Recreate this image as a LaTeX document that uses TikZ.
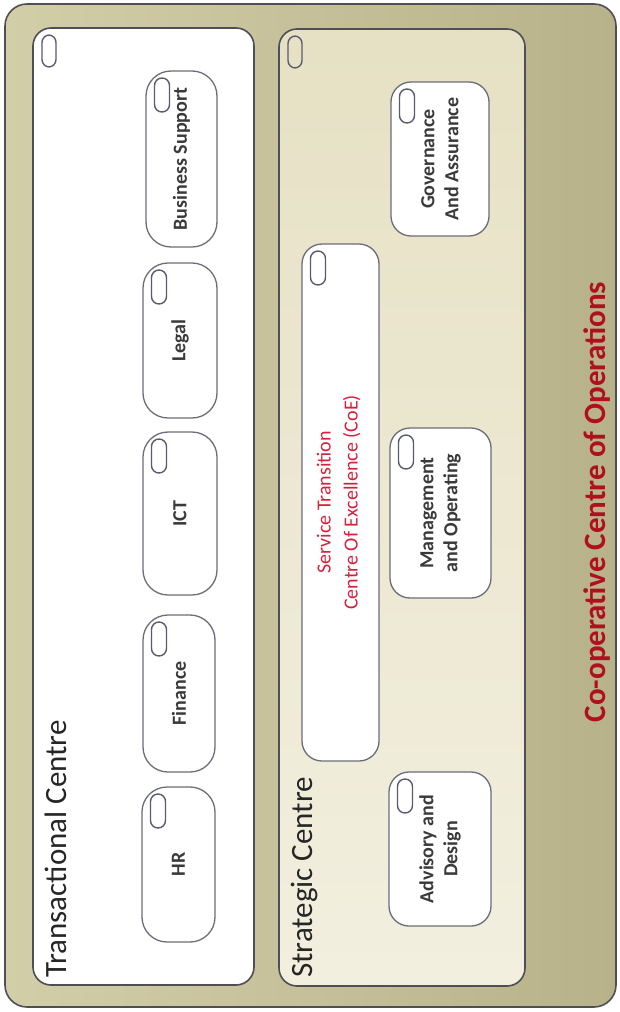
\documentclass[tikz,border=0pt]{standalone}
\usepackage{fontspec}
\setmainfont{Carlito}
\usetikzlibrary{calc}

\definecolor{olivelight}{HTML}{D2CEA8}
\definecolor{olivedark}{HTML}{B8B28A}
\definecolor{framegray}{HTML}{4E4E56}
\definecolor{beigetop}{HTML}{E6E1C4}
\definecolor{beigebottom}{HTML}{F2EFDF}
\definecolor{tileline}{HTML}{6C6C7A}
\definecolor{pillline}{HTML}{5A5B70}
\definecolor{labeltext}{HTML}{3A3A3A}
\definecolor{titletext}{HTML}{262626}
\definecolor{deepred}{HTML}{B0101E}
\definecolor{coered}{HTML}{D6203C}

\begin{document}
\begin{tikzpicture}[x=1pt, y=-1pt,
  outerframe/.style={draw=framegray, line width=1.6pt, rounded corners=22pt,
    left color=olivelight, right color=olivedark, inner sep=0pt, outer sep=0pt},
  container/.style={draw=framegray, line width=1.6pt, rounded corners=18pt,
    inner sep=0pt, outer sep=0pt},
  tile/.style={draw=tileline, fill=white, line width=1.3pt, rounded corners=25pt,
    inner sep=0pt, outer sep=0pt},
  widetile/.style={tile, rounded corners=20pt},
  pill/.style={draw=pillline, line width=1.4pt, rounded corners=7.5pt,
    minimum width=15pt, minimum height=34pt, inner sep=0pt, outer sep=0pt},
  lbl/.style={rotate=90, font=\bfseries\fontsize{20}{24}\selectfont,
    text=labeltext, align=center, inner sep=0pt},
  coelbl/.style={rotate=90, font=\fontsize{20}{27}\selectfont,
    text=coered, align=center, inner sep=0pt},
  title/.style={rotate=90, font=\fontsize{31}{37}\selectfont,
    text=titletext, inner sep=0pt, anchor=base west},
  maintitle/.style={rotate=90, font=\bfseries\fontsize{31}{37}\selectfont,
    text=deepred, inner sep=0pt, anchor=base}
]
\useasboundingbox (0,0) rectangle (620,1012);

% outer frame
\node[outerframe, minimum width=611pt, minimum height=1003pt] (coop) at (310.5,505.5) {};

% the two centres
\node[container, fill=white, minimum width=221pt, minimum height=957pt] (trans) at (143.5,506.5) {};
\node[container, top color=beigetop, bottom color=beigebottom,
      minimum width=246pt, minimum height=957pt] (strat) at (402,507.5) {};

% transactional tiles
\node[tile, minimum width=71pt, minimum height=176pt] (busi) at (181.5,159) {};
\node[tile, minimum width=74pt, minimum height=155pt] (legal) at (180,340.5) {};
\node[tile, minimum width=74pt, minimum height=163pt] (ict) at (180,513.5) {};
\node[tile, minimum width=72pt, minimum height=157pt] (fin) at (179,693.5) {};
\node[tile, minimum width=73pt, minimum height=155pt] (hr) at (178.5,864.5) {};

% strategic tiles
\node[widetile, minimum width=98pt, minimum height=154pt] (gov) at (440,159) {};
\node[widetile, minimum width=77pt, minimum height=517pt] (svc) at (340.5,502.5) {};
\node[widetile, minimum width=101pt, minimum height=170pt] (mgmt) at (440.5,513) {};
\node[widetile, minimum width=102pt, minimum height=154pt] (adv) at (440,849) {};

% small ovals in the top-left corners
\node[pill, minimum width=14pt, minimum height=32pt] (transpill) at ($(trans.north west)+(16,23)$) {};
\node[pill, minimum width=14pt, minimum height=32pt] (stratpill) at ($(strat.north west)+(16,23)$) {};
\foreach \t in {busi,legal,ict,fin,hr,gov,svc,mgmt,adv}{
  \node[pill] (\t pill) at ($(\t.north west)+(16,24)$) {};
}

% labels
\node[lbl] (busilbl) at (busi.center) {Business Support};
\node[lbl] (legallbl) at (legal.center) {Legal};
\node[lbl] (ictlbl) at (ict.center) {ICT};
\node[lbl] (finlbl) at (fin.center) {Finance};
\node[lbl] (hrlbl) at (hr.center) {HR};
\node[lbl] (govlbl) at (gov.center) {Governance\\And Assurance};
\node[coelbl] (svclbl) at ($(svc.center)+(-2,0)$) {Service Transition\\Centre Of Excellence (CoE)};
\node[lbl] (mgmtlbl) at (mgmt.center) {Management\\and Operating};
\node[lbl] (advlbl) at (adv.center) {Advisory and\\Design};

% titles
\node[title] (transtitle) at (66,978) {Transactional Centre};
\node[title] (strattitle) at (312,978) {Strategic Centre};
\node[maintitle] (cooptitle) at (605,502) {Co-operative Centre of Operations};
\end{tikzpicture}
\end{document}
